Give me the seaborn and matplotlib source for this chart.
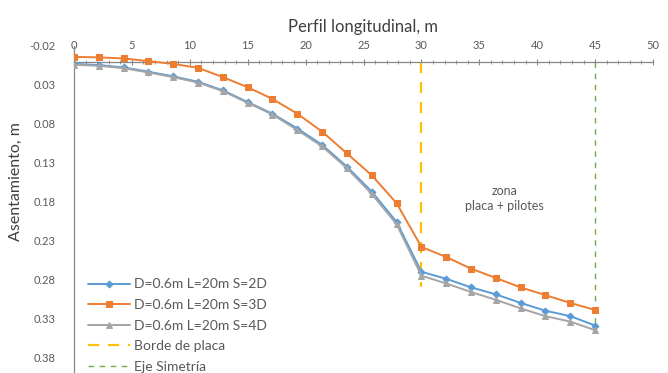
import numpy as np
import pandas as pd
import matplotlib
matplotlib.use("Agg")
import matplotlib.pyplot as plt
import seaborn as sns
from matplotlib.ticker import MultipleLocator, FormatStrFormatter

# ---- data ----
x_pos = [0.0, 2.14, 4.29, 6.43, 8.57, 10.71, 12.86, 15.0, 17.14, 19.29, 21.43,
         23.57, 25.71, 27.86, 30.0, 32.14, 34.29, 36.43, 38.57, 40.71, 42.86, 45.0]
s2d = [0.003, 0.0045, 0.0075, 0.013, 0.019, 0.026, 0.037, 0.052, 0.067, 0.086, 0.107,
       0.135, 0.167, 0.206, 0.270, 0.279, 0.290, 0.299, 0.310, 0.320, 0.327, 0.339]
s3d = [-0.006, -0.0054, -0.004, -0.0006, 0.003, 0.008, 0.020, 0.033, 0.048, 0.067, 0.090,
       0.118, 0.146, 0.182, 0.238, 0.251, 0.266, 0.278, 0.290, 0.300, 0.310, 0.319]
s4d = [0.004, 0.0055, 0.0085, 0.014, 0.020, 0.027, 0.038, 0.053, 0.068, 0.088, 0.109,
       0.137, 0.170, 0.209, 0.275, 0.285, 0.296, 0.306, 0.317, 0.327, 0.334, 0.345]
series_names = ["D=0.6m L=20m S=2D", "D=0.6m L=20m S=3D", "D=0.6m L=20m S=4D"]
borde_x = [30, 30]
borde_y = [0.0, 0.29]
eje_x = [45, 45]
eje_y = [0.0, 0.345]
x_ticks = [0, 5, 10, 15, 20, 25, 30, 35, 40, 45, 50]
y_ticks = [-0.02, 0.03, 0.08, 0.13, 0.18, 0.23, 0.28, 0.33, 0.38]

colors = ["#5B9BD5", "#ED7D31", "#A5A5A5"]
markers = ["D", "s", "^"]
msizes = [3.5, 5, 4]

sns.set_style("white")
plt.rcParams["font.family"] = ["Lato", "DejaVu Sans"]

df = pd.DataFrame({
    "x": x_pos * 3,
    "y": s2d + s3d + s4d,
    "serie": sum([[n] * len(x_pos) for n in series_names], []),
})

fig = plt.figure(figsize=(6.68, 3.73), dpi=100)
ax = fig.add_axes([74 / 668, 0.0, (653 - 74) / 668, 1 - 46 / 373])

for name, c, m, ms in zip(series_names, colors, markers, msizes):
    sub = df[df["serie"] == name]
    sns.lineplot(data=sub, x="x", y="y", ax=ax, color=c, marker=m, markersize=ms,
                 markeredgecolor=c, linewidth=1.4, label=name, zorder=3,
                 estimator=None, sort=False)

sns.lineplot(x=borde_x, y=borde_y, ax=ax, color="#FFC000", linewidth=1.6,
             label="Borde de placa", zorder=2, estimator=None, sort=False,
             linestyle=(0, (5, 4)))
sns.lineplot(x=eje_x, y=eje_y, ax=ax, color="#70AD47", linewidth=1.0,
             label="Eje Simetría", zorder=2, estimator=None, sort=False,
             linestyle=(0, (4, 4)))

ax.set_xlim(0, 50)
ax.set_ylim(0.40, -0.02)

for sp in ["right", "bottom"]:
    ax.spines[sp].set_visible(False)
ax.spines["top"].set_position(("data", 0))
ax.spines["left"].set_position(("data", 0))
for sp in ["top", "left"]:
    ax.spines[sp].set_color("#868686")
    ax.spines[sp].set_linewidth(0.9)

ax.xaxis.tick_top()
ax.xaxis.set_label_position("top")
ax.set_xticks(x_ticks)
ax.set_xticklabels([str(t) for t in x_ticks])
ax.set_yticks(y_ticks)
ax.yaxis.set_major_formatter(FormatStrFormatter("%.2f"))
ax.xaxis.set_minor_locator(MultipleLocator(1))
ax.yaxis.set_minor_locator(MultipleLocator(0.01))
ax.tick_params(axis="both", which="major", direction="inout", length=5, width=0.8,
               color="#868686", labelsize=8, labelcolor="#595959")
ax.tick_params(axis="both", which="minor", direction="inout", length=3, width=0.6,
               color="#868686")
ax.tick_params(axis="x", which="major", pad=5)
ax.tick_params(axis="y", which="major", pad=11)

ax.set_xlabel("Perfil longitudinal, m", fontsize=12, color="#404040", labelpad=6)
ax.set_ylabel("")
fig.text(16 / 668, 1 - 182 / 373, "Asentamiento, m", rotation=90, fontsize=11.5,
         color="#404040", ha="center", va="center")

ax.text(37.2, 0.176, "zona\nplaca + pilotes", fontsize=9, color="#595959",
        ha="center", va="center", linespacing=1.3)

leg = ax.legend(loc="lower left", bbox_to_anchor=(0.01, -0.025), frameon=False,
                fontsize=10, labelcolor="#595959", handlelength=3.0,
                handletextpad=0.3, labelspacing=0.62, borderaxespad=0.2)

fig.savefig("out.png", dpi=100)
